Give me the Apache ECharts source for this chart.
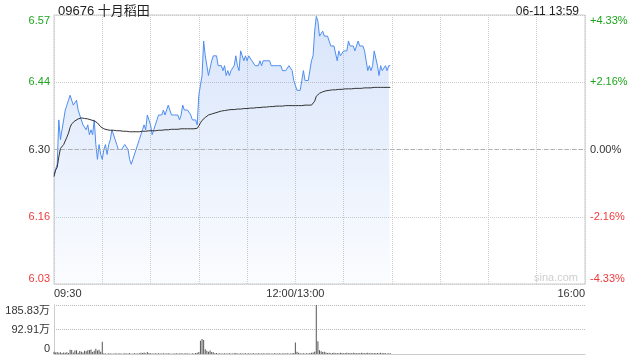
<!DOCTYPE html>
<html>
<head>
<meta charset="utf-8">
<script src="https://cdn.jsdelivr.net/npm/echarts@6/dist/echarts.min.js"></script>
<style>html,body{margin:0;padding:0;background:#fff}#c{width:640px;height:360px}</style>
</head>
<body>
<div id="c"></div>
<script>
var titleText = '09676 十月稻田';
var timeText = '06-11 13:59';
var prevClose = 6.30;
var pctRange = 4.33;
var priceTickLabels = ['6.03', '6.16', '6.30', '6.44', '6.57'];
var pctTickLabels = ['-4.33%', '-2.16%', '0.00%', '+2.16%', '+4.33%'];
var volTickLabels = ['0', '92.91万', '185.83万'];
var volMax = 185.83;
var xTickMinutes = [0, 150, 330];
var xTickLabels = ['09:30', '12:00/13:00', '16:00'];

var prices = [
6.25,6.26,6.27,6.36,6.32,6.34,6.34,6.38,6.39,6.40,
6.41,6.41,6.39,6.39,6.40,6.38,6.37,6.36,6.35,6.35,
6.34,6.35,6.33,6.34,6.33,6.36,6.31,6.28,6.31,6.29,
6.28,6.30,6.31,6.29,6.31,6.32,6.34,6.34,6.32,6.31,
6.30,6.30,6.30,6.30,6.31,6.31,6.30,6.28,6.27,6.28,
6.28,6.30,6.30,6.32,6.33,6.34,6.35,6.34,6.37,6.36,
6.35,6.33,6.34,6.35,6.36,6.37,6.37,6.37,6.38,6.37,
6.38,6.39,6.39,6.37,6.37,6.37,6.37,6.37,6.36,6.37,
6.39,6.38,6.38,6.38,6.38,6.37,6.36,6.36,6.36,6.35,
6.41,6.43,6.45,6.52,6.49,6.49,6.45,6.45,6.48,6.49,
6.49,6.49,6.47,6.47,6.47,6.46,6.47,6.45,6.46,6.45,
6.46,6.46,6.47,6.49,6.47,6.46,6.50,6.49,6.48,6.49,
6.48,6.49,6.49,6.48,6.48,6.47,6.47,6.47,6.48,6.47,
6.48,6.48,6.48,6.48,6.48,6.47,6.47,6.47,6.47,6.47,
6.47,6.47,6.46,6.46,6.46,6.46,6.47,6.47,6.46,6.44,
6.44,6.42,6.42,6.42,6.44,6.46,6.44,6.44,6.44,6.46,
6.48,6.49,6.54,6.57,6.56,6.53,6.53,6.54,6.53,6.53,
6.53,6.53,6.51,6.51,6.51,6.51,6.48,6.50,6.49,6.49,
6.50,6.50,6.50,6.52,6.51,6.51,6.51,6.50,6.50,6.52,
6.51,6.51,6.51,6.50,6.48,6.46,6.47,6.46,6.47,6.50,
6.50,6.47,6.45,6.47,6.46,6.46,6.47,6.46,6.47,6.47
];

var avgPrices = [
6.245,6.258,6.264,6.285,6.302,6.306,6.310,6.313,6.325,6.333,
6.345,6.352,6.356,6.358,6.360,6.362,6.363,6.364,6.364,6.363,
6.362,6.362,6.361,6.360,6.359,6.358,6.356,6.354,6.350,6.346,
6.343,6.342,6.341,6.340,6.340,6.339,6.339,6.339,6.338,6.338,
6.338,6.338,6.337,6.337,6.337,6.337,6.336,6.336,6.336,6.336,
6.336,6.336,6.336,6.336,6.336,6.337,6.337,6.337,6.337,6.338,
6.338,6.338,6.338,6.338,6.339,6.339,6.339,6.339,6.340,6.340,
6.340,6.340,6.340,6.341,6.341,6.341,6.341,6.341,6.341,6.342,
6.342,6.342,6.342,6.342,6.342,6.342,6.342,6.342,6.342,6.343,
6.348,6.354,6.359,6.362,6.365,6.368,6.370,6.371,6.372,6.373,
6.374,6.375,6.376,6.377,6.378,6.379,6.379,6.380,6.380,6.380,
6.381,6.381,6.381,6.382,6.382,6.382,6.382,6.383,6.383,6.383,
6.383,6.384,6.384,6.384,6.384,6.385,6.385,6.385,6.385,6.386,
6.386,6.386,6.386,6.387,6.387,6.387,6.387,6.387,6.388,6.388,
6.388,6.388,6.388,6.388,6.389,6.389,6.389,6.389,6.389,6.389,
6.389,6.389,6.389,6.389,6.389,6.390,6.390,6.390,6.390,6.390,
6.390,6.391,6.398,6.408,6.412,6.414,6.416,6.417,6.418,6.419,
6.420,6.420,6.421,6.421,6.421,6.421,6.422,6.422,6.422,6.422,
6.422,6.423,6.423,6.423,6.423,6.423,6.424,6.424,6.424,6.424,
6.424,6.424,6.425,6.425,6.425,6.425,6.425,6.425,6.425,6.426,
6.426,6.426,6.426,6.426,6.426,6.426,6.426,6.426,6.426,6.426
];

var volumes = [
9,6,8,5,7,4,6,5,7,4,
16,15,6,13,14,5,11,9,6,12,
10,14,15,17,8,12,20,13,16,9,
46,3,2,1,3,2,2,1,3,2,
2,3,1,2,3,2,2,4,1,2,
3,2,2,3,5,4,6,3,8,4,
3,2,2,3,2,3,2,2,3,2,
2,3,2,1,2,2,3,2,2,3,
2,2,3,2,2,1,3,2,4,5,
8,50,57,53,18,12,9,13,8,7,
3,4,2,3,2,2,3,2,2,3,
2,2,3,4,2,2,3,2,2,3,
2,3,2,2,3,2,2,3,2,2,
3,2,2,3,2,2,2,3,2,2,
3,2,2,3,2,3,2,2,3,4,
44,9,5,3,2,3,2,3,2,4,
5,6,9,185.83,48,14,10,8,9,6,
4,5,3,4,5,3,4,3,5,4,
3,4,5,3,4,3,5,4,3,4,
3,5,4,3,4,5,3,4,3,4,
3,4,3,5,3,4,3,2,3,3
];

var FONT = '"Liberation Sans", Arial, "Noto Sans CJK SC", sans-serif';
var GREEN = '#1ea51e', RED = '#f03a3a', DARK = '#333';

var priceData = [], avgData = [], volData = [];
for (var i = 0; i < prices.length; i++) {
  priceData.push([i, prices[i]]);
  avgData.push([i, avgPrices[i]]);
  volData.push([i, volumes[i]]);
}
function stepColor(v) { return v > 0 ? GREEN : (v < 0 ? RED : DARK); }

var chart = echarts.init(document.getElementById('c'), null, {renderer: 'canvas'});
chart.setOption({
  animation: false,
  backgroundColor: '#fff',
  textStyle: {fontFamily: FONT},
  title: [
    {text: titleText, left: 53, top: 0, textStyle: {fontSize: 13, fontWeight: 'normal', color: '#222', fontFamily: FONT}},
    {text: timeText, right: 56, top: 1, textStyle: {fontSize: 12, fontWeight: 'normal', color: '#222', fontFamily: FONT}}
  ],
  graphic: [
    {type: 'text', right: 62, top: 272, style: {text: 'sina.com', fill: '#cfcfcf', fontSize: 11, fontFamily: FONT}}
  ],
  grid: [
    {left: 54, right: 55, top: 15, height: 269, show: true, borderColor: '#ccc', borderWidth: 1, backgroundColor: 'transparent'},
    {left: 54, right: 55, top: 305, height: 49, show: false}
  ],
  xAxis: [
    {type: 'value', gridIndex: 0, min: 0, max: 330, interval: 30,
     axisLine: {show: false}, axisTick: {show: false},
     splitLine: {show: true, lineStyle: {color: '#ccc', type: 'dotted'}},
     axisLabel: {show: true, margin: 4, fontSize: 11, color: DARK, fontFamily: FONT,
       showMinLabel: true, showMaxLabel: true, alignMinLabel: 'left', alignMaxLabel: 'right',
       formatter: function (v) { var k = xTickMinutes.indexOf(Math.round(v)); return k >= 0 ? xTickLabels[k] : ''; }}},
    {type: 'value', gridIndex: 1, min: 0, max: 330, interval: 30,
     axisLine: {show: true, onZero: false, lineStyle: {color: '#ccc'}}, axisTick: {show: false},
     splitLine: {show: false}, axisLabel: {show: false}}
  ],
  yAxis: [
    {type: 'value', gridIndex: 0, show: false, min: prevClose * (1 - pctRange / 100), max: prevClose * (1 + pctRange / 100)},
    {type: 'value', gridIndex: 0, position: 'left', min: -2, max: 2, interval: 1,
     axisLine: {show: false}, axisTick: {show: false},
     splitLine: {show: true, lineStyle: {color: '#ccc', type: 'dotted'}},
     axisLabel: {margin: 4, fontSize: 11, fontFamily: FONT, showMinLabel: true, showMaxLabel: true,
       verticalAlignMinLabel: 'bottom', verticalAlignMaxLabel: 'top',
       color: function (v) { return stepColor(Math.round(Number(v))); },
       formatter: function (v) { return priceTickLabels[Math.round(v) + 2]; }}},
    {type: 'value', gridIndex: 0, position: 'right', min: -2, max: 2, interval: 1,
     axisLine: {show: false}, axisTick: {show: false}, splitLine: {show: false},
     axisLabel: {margin: 5, fontSize: 11, fontFamily: FONT, showMinLabel: true, showMaxLabel: true,
       verticalAlignMinLabel: 'bottom', verticalAlignMaxLabel: 'top',
       color: function (v) { return stepColor(Math.round(Number(v))); },
       formatter: function (v) { return pctTickLabels[Math.round(v) + 2]; }}},
    {type: 'value', gridIndex: 1, show: true, position: 'right', min: 0, max: volMax,
     axisLine: {show: true, lineStyle: {color: '#ccc'}}, axisTick: {show: false},
     axisLabel: {show: false}, splitLine: {show: false}},
    {type: 'value', gridIndex: 1, position: 'left', min: 0, max: 2, interval: 1,
     axisLine: {show: true, lineStyle: {color: '#ccc'}}, axisTick: {show: false},
     splitLine: {show: true, lineStyle: {color: '#bbb', type: 'dotted'}},
     axisLabel: {margin: 4, fontSize: 11, color: DARK, fontFamily: FONT, showMinLabel: true, showMaxLabel: true,
       verticalAlignMinLabel: 'bottom', verticalAlignMaxLabel: 'top',
       formatter: function (v) { return volTickLabels[Math.round(v)]; }}}
  ],
  series: [
    {type: 'line', xAxisIndex: 0, yAxisIndex: 0, data: priceData, showSymbol: false, symbol: 'none',
     lineStyle: {color: '#4f8ef0', width: 1},
     areaStyle: {origin: 'start', color: new echarts.graphic.LinearGradient(0, 0, 0, 1, [
       {offset: 0, color: 'rgba(70,130,235,0.30)'}, {offset: 1, color: 'rgba(70,130,235,0.03)'}])},
     markLine: {silent: true, symbol: 'none', label: {show: false},
       lineStyle: {color: '#b0b0b0', type: [4, 3], width: 1}, data: [{yAxis: prevClose}]},
     z: 3},
    {type: 'line', xAxisIndex: 0, yAxisIndex: 0, data: avgData, showSymbol: false, symbol: 'none',
     lineStyle: {color: '#333', width: 1}, z: 4},
    {type: 'bar', xAxisIndex: 1, yAxisIndex: 3, data: volData, barWidth: 1, itemStyle: {color: '#555'}}
  ]
});
</script>
</body>
</html>
